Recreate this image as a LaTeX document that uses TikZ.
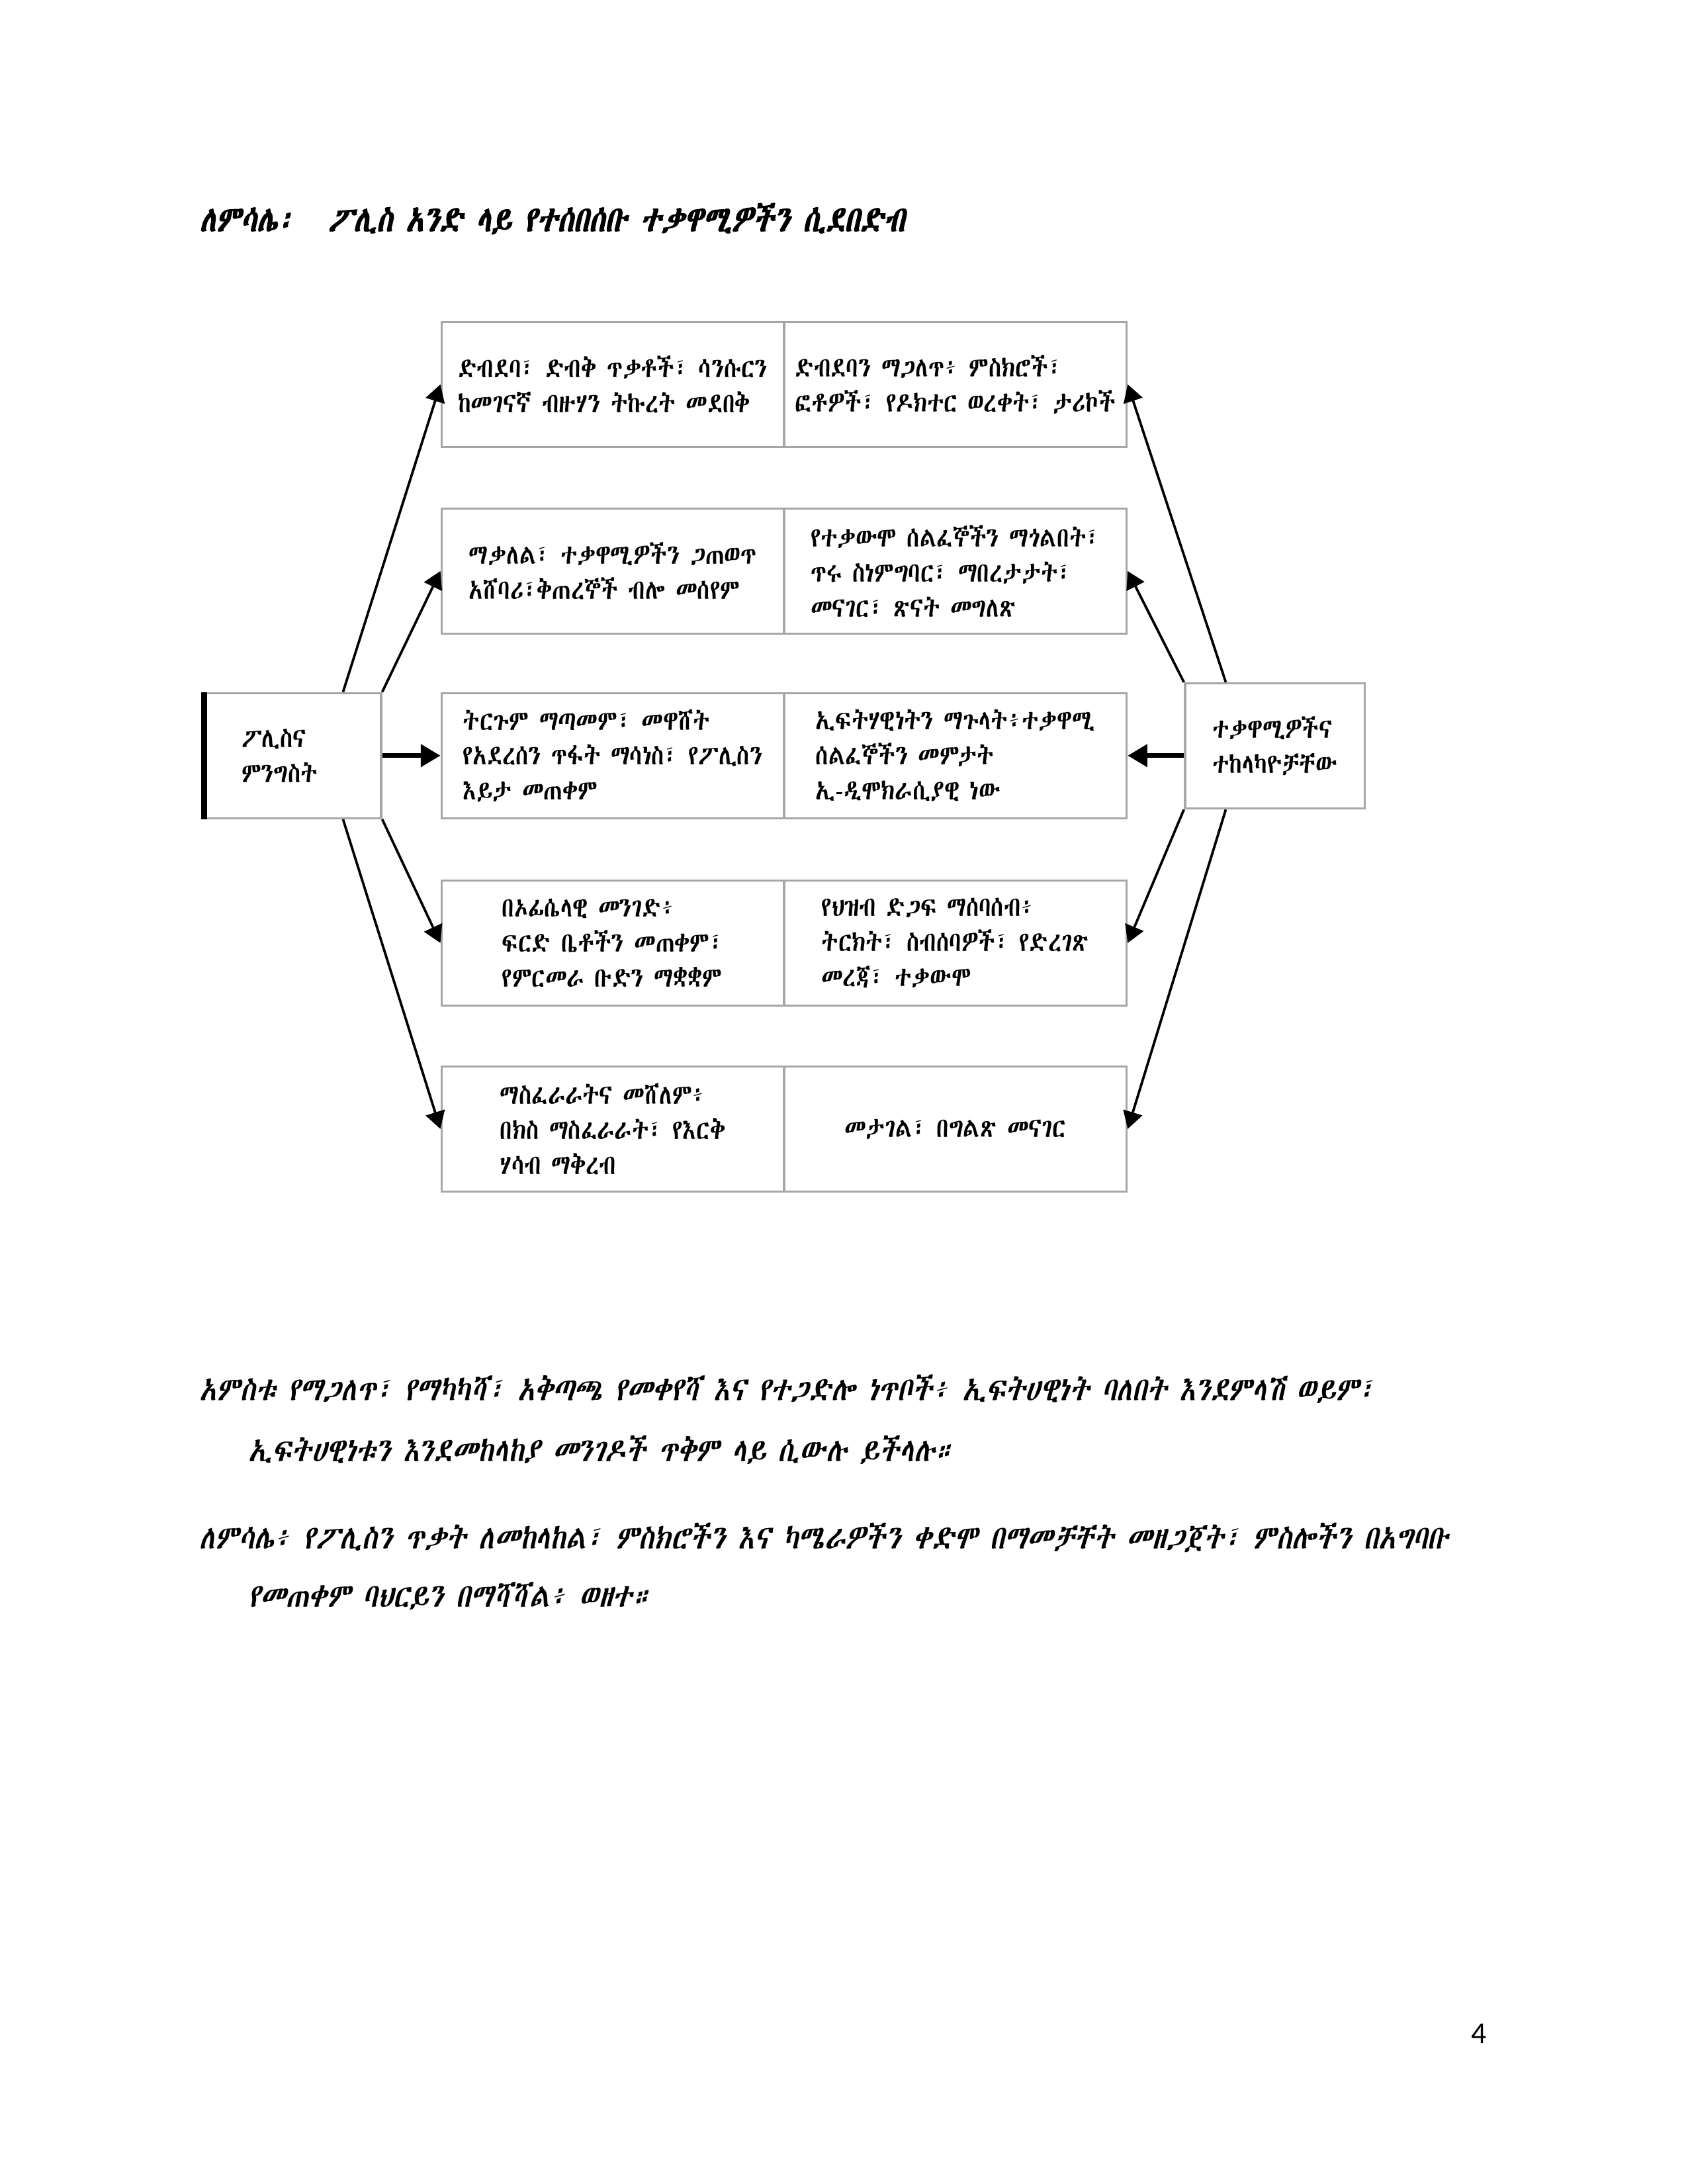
\documentclass[tikz,border=0pt]{standalone}
\usepackage{fontspec}
\usetikzlibrary{arrows.meta,calc}
\IfFontExistsTF{Abyssinica SIL}{\def\geezname{Abyssinica SIL}}{%
  \IfFontExistsTF{Noto Sans Ethiopic}{\def\geezname{Noto Sans Ethiopic}}{\def\geezname{FreeSerif}}}
\newfontfamily\geez{\geezname}[FakeStretch=0.84]
\newfontfamily\geezsl{\geezname}[FakeSlant=0.2,FakeStretch=0.84]
\newfontfamily\geezbf{\geezname}[FakeSlant=0.2,FakeBold=2,FakeStretch=0.81]
\newfontfamily\pagefont{Carlito}

\begin{document}
\begin{tikzpicture}[
      x=0.017813cm, y=-0.017813cm,
      cell/.style={draw=gray!70, line width=0.8pt, minimum width=4.38cm,
                   minimum height=1.6cm, inner sep=0pt, align=left,
                   font=\geez\fontsize{10}{12.7}\selectfont},
      side/.style={cell, minimum width=2.25cm},
      link/.style={-{Triangle[length=2.2mm,width=2.5mm]}, line width=0.9pt},
      bold link/.style={-{Triangle[length=2.5mm,width=2.8mm]}, line width=1.6pt},
      body/.style={anchor=west, inner sep=0pt, font=\geezsl\fontsize{12}{14}\selectfont},
    ]
    \useasboundingbox (0,0) rectangle (1212,1568);

    % title
    \node[body, font=\geezbf\fontsize{13}{16}\selectfont] (title) at (143,157)
      {ለምሳሌ፡\hspace{0.43cm}ፖሊስ አንድ ላይ የተሰበሰቡ ተቃዋሚዎችን ሲደበድብ};

    % the grid of answers
    \node[cell] (l1) at (440,276) {ድብደባ፣ ድብቅ ጥቃቶች፣ ሳንሱርን\\ከመገናኛ ብዙሃን ትኩረት መደበቅ};
    \node[cell] (r1) at (686,276) {ድብደባን ማጋለጥ፥ ምስክሮች፣\\ፎቶዎች፣ የዶክተር ወረቀት፣ ታሪኮች};
    \node[cell] (l2) at (440,410) {ማቃለል፣ ተቃዋሚዎችን ጋጠወጥ\\አሸባሪ፣ቅጠረኞች ብሎ መሰየም};
    \node[cell] (r2) at (686,410) {የተቃውሞ ሰልፈኞችን ማጎልበት፣\\ጥሩ ስነምግባር፣ ማበረታታት፣\\መናገር፣ ጽናት መግለጽ};
    \node[cell] (l3) at (440,542.5) {ትርጉም ማጣመም፣ መዋሸት\\የአደረሰን ጥፋት ማሳነስ፣ የፖሊስን\\እይታ መጠቀም};
    \node[cell] (r3) at (686,542.5) {ኢፍትሃዊነትን ማጉላት፥ተቃዋሚ\\ሰልፈኞችን መምታት\\ኢ-ዲሞክራሲያዊ ነው};
    \node[cell] (l4) at (440,677) {በኦፊሴላዊ መንገድ፥\\ፍርድ ቤቶችን መጠቀም፣\\የምርመራ ቡድን ማቋቋም};
    \node[cell] (r4) at (686,677) {የህዝብ ድጋፍ ማሰባሰብ፥\\ትርክት፣ ስብሰባዎች፣ የድረገጽ\\መረጃ፣ ተቃውሞ};
    \node[cell] (l5) at (440,810.5) {ማስፈራራትና መሸለም፥\\በክስ ማስፈራራት፣ የእርቅ\\ሃሳብ ማቅረብ};
    \node[cell] (r5) at (686,810.5) {መታገል፣ በግልጽ መናገር};

    % the two sides
    \node[side, text width=1.32cm] (pol) at (210.5,542.5) {ፖሊስና\\ምንግስት};
    \node[side, minimum width=2.3cm] (opp) at (915.5,535.5) {ተቃዋሚዎችና\\ተከላካዮቻቸው};
    \draw[line width=2.2pt] (pol.north west) -- (pol.south west);

    \coordinate (pt) at ($(pol.north west)!0.78!(pol.north east)$);
    \coordinate (pb) at ($(pol.south west)!0.78!(pol.south east)$);
    \coordinate (ot) at ($(opp.north west)!0.23!(opp.north east)$);
    \coordinate (ob) at ($(opp.south west)!0.23!(opp.south east)$);

    \draw[link] (pt) -- (l1.west);
    \draw[link] (pol.north east) -- (l2.west);
    \draw[bold link] (pol.east) -- (l3.west);
    \draw[link] (pol.south east) -- (l4.west);
    \draw[link] (pb) -- (l5.west);

    \draw[link] (ot) -- (r1.east);
    \draw[link] (opp.north west) -- (r2.east);
    \draw[bold link] (opp.west |- r3.east) -- (r3.east);
    \draw[link] (opp.south west) -- (r4.east);
    \draw[link] (ob) -- (r5.east);

    % text below the picture
    \node[body] (p1) at (143,997)
      {አምስቱ የማጋለጥ፣ የማካካሻ፣ አቅጣጫ የመቀየሻ እና የተጋድሎ ነጥቦች፥ ኢፍትሀዊነት ባለበት እንደምላሽ ወይም፣};
    \node[body] (p2) at (178,1041)
      {ኢፍትሀዊነቱን እንደመከላከያ መንገዶች ጥቅም ላይ ሲውሉ ይችላሉ።};
    \node[body] (p3) at (143,1104)
      {ለምሳሌ፥ የፖሊስን ጥቃት ለመከላከል፣ ምስክሮችን እና ካሜራዎችን ቀድሞ በማመቻቸት መዘጋጀት፣ ምስሎችን በአግባቡ};
    \node[body] (p4) at (178,1146)
      {የመጠቀም ባህርይን በማሻሻል፥ ወዘተ።};

    \node[font=\pagefont\fontsize{11}{13}\selectfont] (page) at (1062,1460) {4};
  \end{tikzpicture}
\end{document}
